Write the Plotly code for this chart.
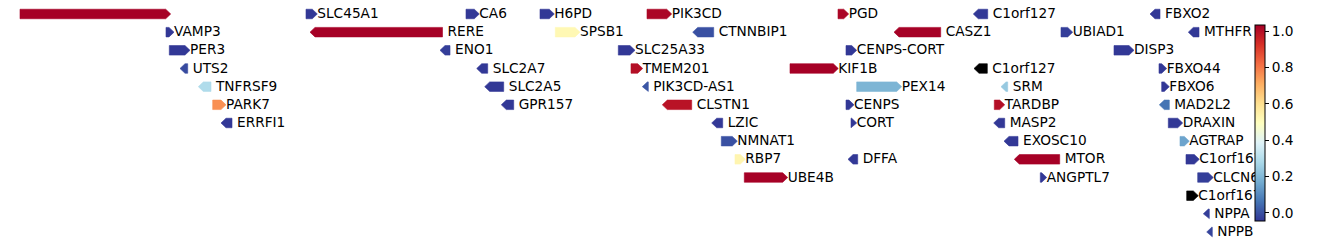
import plotly.graph_objects as go
import plotly.colors as pc

# ---- data (x in track units) ----
names = ["", "SLC45A1", "CA6", "H6PD", "PIK3CD", "PGD", "C1orf127", "FBXO2",
         "VAMP3", "RERE", "SPSB1", "CTNNBIP1", "CASZ1", "UBIAD1", "MTHFR",
         "PER3", "ENO1", "SLC25A33", "CENPS-CORT", "DISP3",
         "UTS2", "SLC2A7", "TMEM201", "KIF1B", "C1orf127", "FBXO44",
         "TNFRSF9", "SLC2A5", "PIK3CD-AS1", "PEX14", "SRM", "FBXO6",
         "PARK7", "GPR157", "CLSTN1", "CENPS", "TARDBP", "MAD2L2",
         "ERRFI1", "LZIC", "CORT", "MASP2", "DRAXIN",
         "NMNAT1", "EXOSC10", "AGTRAP",
         "RBP7", "DFFA", "MTOR", "C1orf167",
         "UBE4B", "ANGPTL7", "CLCN6",
         "C1orf167",
         "NPPA",
         "NPPB"]
starts = [20, 306, 466, 540, 647, 838, 978.3, 1155,
          166, 315, 555.3, 697.7, 899, 1061, 1193.3,
          169.3, 445, 618.3, 846, 1114,
          185, 481.7, 631, 790, 979, 1159,
          203.3, 489.7, 647.3, 856.7, 1006, 1161.7,
          212.7, 506.3, 667.3, 846, 994.3, 1164.3,
          226, 716.7, 851, 998.7, 1168.3,
          721.3, 1009, 1180,
          735, 853, 1019.3, 1186,
          744.3, 1040.3, 1197.7,
          1186.7,
          1208.3,
          1211.7]
ends = [165.7, 312.3, 474.3, 549.3, 666.7, 843.7, 987.7, 1160,
        169, 442.5, 575, 713.7, 940.7, 1067.7, 1199,
        185, 450, 630, 851.7, 1129,
        187.7, 487.7, 637.7, 833.3, 987.3, 1161.7,
        211, 503.7, 648.3, 896.7, 1007.7, 1164.3,
        221, 513.7, 691.7, 849, 999.7, 1169.3,
        232, 722.7, 851.7, 1004.7, 1177.7,
        732.3, 1018, 1184.3,
        740.3, 857.7, 1059.7, 1194.3,
        782.7, 1041.7, 1208.3,
        1193.3,
        1209.3,
        1212.3]
strands = ["+", "+", "+", "+", "+", "+", "-", "-",
           "+", "-", "+", "-", "-", "+", "-",
           "+", "-", "+", "+", "+",
           "-", "-", "+", "+", "-", "+",
           "-", "-", "-", "+", "-", "+",
           "+", "-", "-", "+", "+", "-",
           "-", "-", "+", "-", "+",
           "+", "-", "+",
           "+", "-", "-", "+",
           "+", "+", "+",
           "+",
           "-",
           "-"]
rows = [0, 0, 0, 0, 0, 0, 0, 0,
        1, 1, 1, 1, 1, 1, 1,
        2, 2, 2, 2, 2,
        3, 3, 3, 3, 3, 3,
        4, 4, 4, 4, 4, 4,
        5, 5, 5, 5, 5, 5,
        6, 6, 6, 6, 6,
        7, 7, 7,
        8, 8, 8, 8,
        9, 9, 9,
        10,
        11,
        12]
values = [1.03, -0.04, -0.04, -0.04, 1.02, 1.02, -0.04, -0.04,
          -0.04, 1.03, 0.52, 0.0, 1.03, -0.03, -0.04,
          -0.04, -0.03, -0.04, -0.04, -0.04,
          -0.01, -0.04, 1.0, 1.03, None, -0.04,
          0.29, -0.04, 0.01, 0.19, 0.24, -0.04,
          0.76, -0.04, 0.99, -0.04, 1.0, 0.064,
          -0.04, -0.04, -0.04, -0.04, -0.04,
          0.0, -0.04, 0.155,
          0.53, -0.04, 1.03, -0.04,
          1.03, -0.04, -0.03,
          None,
          -0.03,
          -0.02]

CMIN, CMAX = -0.044, 1.033
cbar_ticks = [0.0, 0.2, 0.4, 0.6, 0.8, 1.0]
cbar_labels = ["0.0", "0.2", "0.4", "0.6", "0.8", "1.0"]

# ---- style ----
HEAD = 5.0      # arrow head length (x units)
HALF = 0.262    # half arrow height (row units)
TEXT_DY = 0.04  # small downward nudge of labels (row units)
FONT = dict(family="DejaVu Sans", size=13.7, color="black")

scale = pc.make_colorscale(pc.diverging.RdYlBu_r)

fig = go.Figure()
for name, s, e, st, r, v in zip(names, starts, ends, strands, rows, values):
    if v is None:
        col = "black"
    else:
        n = min(max((v - CMIN) / (CMAX - CMIN), 0), 1)
        col = pc.sample_colorscale(scale, [n])[0]
    if st == "+":
        xs = [s, e, e + HEAD, e, s, s]
    else:
        xs = [e, s, s - HEAD, s, e, e]
    ys = [r - HALF, r - HALF, r, r + HALF, r + HALF, r - HALF]
    fig.add_trace(go.Scatter(x=xs, y=ys, mode="lines", fill="toself",
                             fillcolor=col, line=dict(color=col, width=0.6),
                             hoverinfo="text", text=name, showlegend=False))

fig.add_trace(go.Scatter(
    x=[e + HEAD for e in ends], y=[r + TEXT_DY for r in rows], mode="text",
    text=names, textposition="middle right", textfont=FONT, cliponaxis=True,
    hoverinfo="skip", showlegend=False))

# colour bar carrier
fig.add_trace(go.Scatter(
    x=[-1000], y=[0], mode="markers", hoverinfo="skip", showlegend=False,
    marker=dict(color=[CMIN], cmin=CMIN, cmax=CMAX, colorscale="RdYlBu_r",
                showscale=True, opacity=0,
                colorbar=dict(thickness=10, thicknessmode="pixels",
                              len=196, lenmode="pixels",
                              x=1.0, xanchor="left", xpad=0,
                              y=0.5, yanchor="middle", ypad=0,
                              outlinewidth=1, outlinecolor="black",
                              ticks="outside", ticklen=4, tickwidth=1,
                              tickcolor="black",
                              tickvals=cbar_ticks, ticktext=cbar_labels,
                              tickfont=FONT))))

fig.update_layout(
    width=1338, height=246,
    margin=dict(l=0, r=83, t=0, b=0),
    paper_bgcolor="white", plot_bgcolor="white",
    xaxis=dict(range=[0, 1255], visible=False, fixedrange=True),
    yaxis=dict(range=[12.77, -0.77], visible=False, fixedrange=True),
    showlegend=False,
)

fig.write_html("out.html")
